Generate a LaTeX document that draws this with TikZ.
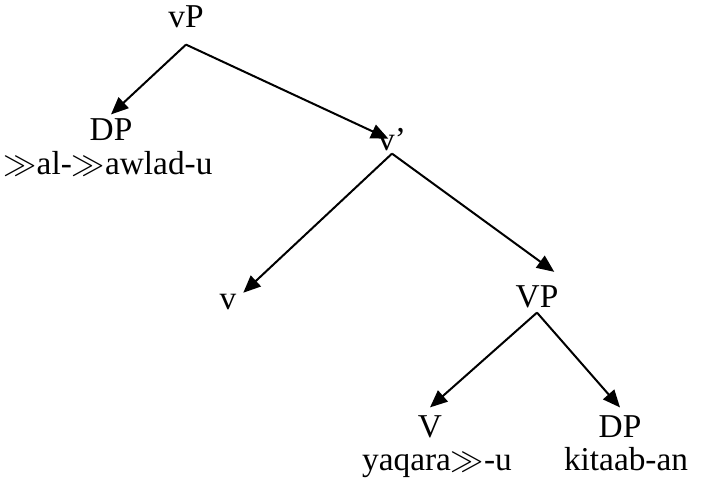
\documentclass[tikz,border=0pt]{standalone}
\usepackage{fontspec}
\setmainfont{Liberation Serif}
\usetikzlibrary{arrows.meta,positioning}
\begin{document}
\begin{tikzpicture}[x=0.75pt, y=0.75pt,
    catStyle/.style={inner sep=10.5pt, text height=0.7em, text depth=0.25em, font=\fontsize{25}{30}\selectfont},
    wordStyle/.style={inner sep=0pt, text height=0.7em, text depth=0.25em, font=\fontsize{25}{30}\selectfont},
    branchStyle/.style={line width=1.5pt, -{Triangle[length=13pt, width=11pt]}}]
    \useasboundingbox (0,0) rectangle (717,-487);

    \node[catStyle] (vP) at (186, -24) {vP};

    \node[catStyle, inner ysep=12pt] (DP_1) at (111, -137) {DP};
    \node[wordStyle] (DP_1w) at (108, -171) {$\gg$al-$\gg$awlad-u};

    \node[catStyle, inner sep=0pt] (vbar) at (392, -147) {v'};

    \node[catStyle, inner sep=5pt] (v) at (228, -306) {v};
    \node[catStyle, inner xsep=21pt, inner ysep=1.5pt] (VP) at (537, -304) {VP};

    \node[catStyle, inner sep=15pt] (V) at (430, -434) {V};
    \node[wordStyle] (Vw) at (437, -467) {yaqara$\gg$-u};

    \node[catStyle, inner sep=15pt] (DP_2) at (620, -434) {DP};
    \node[wordStyle] (DP_2w) at (626, -467) {kitaab-an};

    \draw[branchStyle] (vP.south) -- (DP_1.north);
    \draw[branchStyle, shorten >=3pt] (vP.south) -- (vbar.north);
    \draw[branchStyle] (vbar.south) -- (v.north east);
    \draw[branchStyle, shorten >=30pt] (vbar.south) -- (VP.north east);
    \draw[branchStyle] (VP.south) -- (V.north);
    \draw[branchStyle] (VP.south) -- (DP_2.north);
\end{tikzpicture}
\end{document}
